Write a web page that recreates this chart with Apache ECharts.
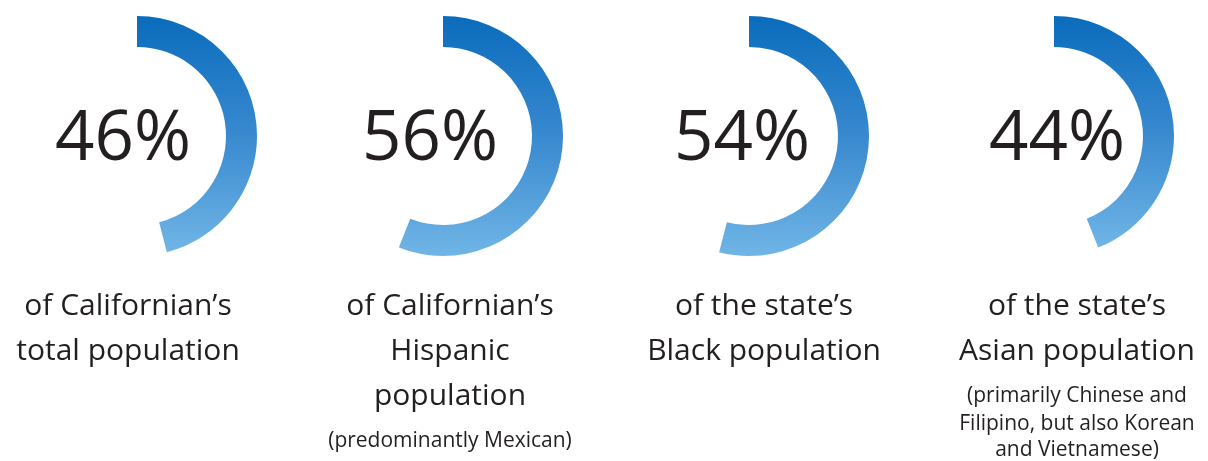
<!DOCTYPE html>
<html>
<head>
<meta charset="utf-8">
<script src="https://cdn.jsdelivr.net/npm/echarts@6/dist/echarts.min.js"></script>
<style>
  html, body { margin: 0; padding: 0; background: #fff; }
  #chart { width: 1208px; height: 461px; }
</style>
</head>
<body>
<div id="chart"></div>
<script>
// Share of each California population group
const percents = [46, 56, 54, 44];
const percentLabels = ['46%', '56%', '54%', '44%'];
const captionLines = [
  ['of Californian\u2019s', 'total population'],
  ['of Californian\u2019s', 'Hispanic', 'population'],
  ['of the state\u2019s', 'Black population'],
  ['of the state\u2019s', 'Asian population']
];
const noteLines = [
  [],
  ['(predominantly Mexican)'],
  [],
  ['(primarily Chinese and', 'Filipino, but also Korean', 'and Vietnamese)']
];

// Layout
const ringCentersX = [137, 443, 749, 1054];
const ringCenterY = 136;
const valueCentersX = [123, 430, 742, 1057];
const captionCentersX = [128, 450, 764, 1077];
const FONT = '"Open Sans", "Liberation Sans", sans-serif';
const TEXT_COLOR = '#231f20';

const arcGradient = new echarts.graphic.LinearGradient(0, 0, 0, 1, [
  { offset: 0, color: '#0a6cbc' },
  { offset: 0.5, color: '#3889cf' },
  { offset: 1, color: '#70b5e6' }
]);

const series = percents.map((v, i) => ({
  type: 'pie',
  center: [ringCentersX[i], ringCenterY],
  radius: [89, 120],
  startAngle: 90,
  clockwise: true,
  silent: true,
  animation: false,
  label: { show: false },
  labelLine: { show: false },
  emphasis: { disabled: true },
  itemStyle: { borderWidth: 0 },
  data: [
    { value: v, itemStyle: { color: arcGradient } },
    { value: 100 - v, itemStyle: { color: 'rgba(0,0,0,0)' } }
  ]
}));

const graphics = [];
percentLabels.forEach((t, i) => {
  graphics.push({
    type: 'text', x: valueCentersX[i], y: 140,
    style: { text: t, font: '400 69px ' + FONT, fill: TEXT_COLOR,
             textAlign: 'center', textVerticalAlign: 'middle' }
  });
});
const bigBaselines = [316, 361, 406];
captionLines.forEach((lines, i) => {
  lines.forEach((t, j) => {
    graphics.push({
      type: 'text', x: captionCentersX[i], y: bigBaselines[j] - 10,
      style: { text: t, font: '30px ' + FONT, fill: TEXT_COLOR,
               textAlign: 'center', textVerticalAlign: 'middle' }
    });
  });
});
const noteBaselines = [[], [447], [], [402, 430, 456]];
noteLines.forEach((lines, i) => {
  lines.forEach((t, j) => {
    graphics.push({
      type: 'text', x: captionCentersX[i], y: noteBaselines[i][j] - 6,
      style: { text: t, font: '21px ' + FONT, fill: TEXT_COLOR,
               textAlign: 'center', textVerticalAlign: 'middle' }
    });
  });
});

const chart = echarts.init(document.getElementById('chart'), null, { renderer: 'canvas' });
chart.setOption({
  backgroundColor: '#ffffff',
  animation: false,
  series: series,
  graphic: graphics
});
</script>
</body>
</html>
